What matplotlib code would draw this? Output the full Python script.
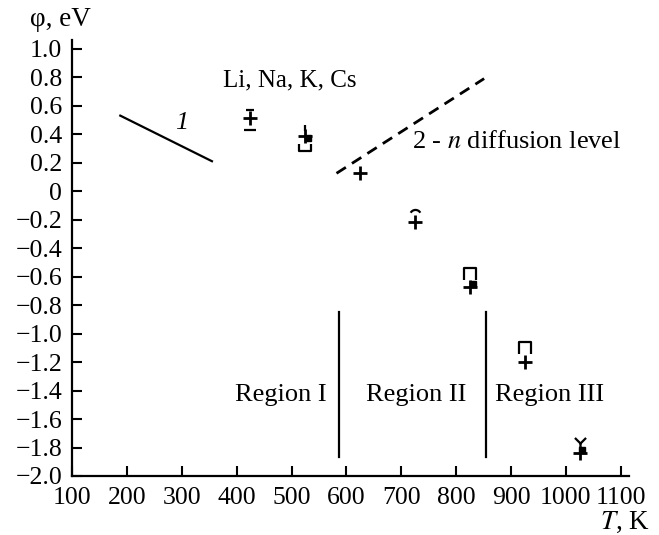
import numpy as np
import matplotlib
matplotlib.use('Agg')
import matplotlib.pyplot as plt
from matplotlib.path import Path
from matplotlib.ticker import FixedLocator, FuncFormatter

plt.rcParams['font.family'] = ['Liberation Serif', 'DejaVu Serif']
plt.rcParams['mathtext.fontset'] = 'stix'

# temperatures of the measured points, K
T = [425, 525, 625, 725, 825, 925, 1025]
# main "+" symbols, eV
phi_plus = [0.51, 0.39, 0.13, -0.22, -0.67, -1.20, -1.84]
# companion symbols (other alkali metals) around the same points
extra_T = [425, 425, 525, 525, 725, 825, 925, 1025]
extra_phi = [0.57, 0.43, 0.44, 0.30, -0.17, -0.58, -1.10, -1.77]
# small filled squares next to some crosses
sq_T = [530, 830, 1030]
sq_phi = [0.37, -0.65, -1.82]

# line 1 and dashed line 2
line1_T = [188, 355]
line1_phi = [0.53, 0.21]
line2_T = [582, 851]
line2_phi = [0.125, 0.79]

# region borders
border_T = [586, 854]
border_phi = [-0.85, -1.865]

yticks = [1.0, 0.8, 0.6, 0.4, 0.2, 0, -0.2, -0.4, -0.6, -0.8, -1.0,
          -1.2, -1.4, -1.6, -1.8, -2.0]
xticks = [100, 200, 300, 400, 500, 600, 700, 800, 900, 1000, 1100]

# marker shapes
cup = Path([(-1, 0.7), (-1, -0.5), (1, -0.5), (1, 0.7)],
           [Path.MOVETO, Path.LINETO, Path.LINETO, Path.LINETO])
cap = Path([(-1, -1), (-1, 1), (1, 1), (1, -1)],
           [Path.MOVETO, Path.LINETO, Path.LINETO, Path.LINETO])
vee = Path([(-1, 1), (0, 0), (1, 1), (0, 0), (0, -0.6)],
           [Path.MOVETO, Path.LINETO, Path.LINETO, Path.MOVETO, Path.LINETO])
arc = Path.arc(30, 150)
extra_m = ['_', '_', '|', cup, arc, cap, cap, vee]
extra_s = [6, 9, 5, 8, 8, 8, 9, 8]

fig = plt.figure(figsize=(6.59, 5.35), dpi=100)
ax = fig.add_axes([72/659, 59/535, 557/659, 436/535])

ax.plot(T, phi_plus, ls='none', marker='+', ms=10, mew=2, color='black')
for t, p, m, s in zip(extra_T, extra_phi, extra_m, extra_s):
    ax.plot([t], [p], ls='none', marker=m, ms=s, mew=1.6, mfc='none',
            color='black')
ax.plot(sq_T, sq_phi, ls='none', marker='s', ms=4, color='black')

ax.plot(line1_T, line1_phi, color='black', lw=1.6)
ax.plot(line2_T, line2_phi, color='black', lw=2, ls=(0, (4, 2.6)))
for bt in border_T:
    ax.plot([bt, bt], border_phi, color='black', lw=1.6)

ax.text(299, 0.476, '1', fontsize=19, style='italic', ha='center', va='center')
ax.text(375, 0.78, 'Li, Na, K, Cs', fontsize=18, ha='left', va='center')
ax.text(719, 0.345, '2 - $n$ diffusion level', fontsize=19, ha='left', va='center')
ax.text(481, -1.43, 'Region I', fontsize=19, ha='center', va='center')
ax.text(727, -1.43, 'Region II', fontsize=19, ha='center', va='center')
ax.text(970, -1.43, 'Region III', fontsize=19, ha='center', va='center')

ax.set_xlim(100, 1115)
ax.set_ylim(-2.0, 1.061)
ax.xaxis.set_major_locator(FixedLocator(xticks))
ax.yaxis.set_major_locator(FixedLocator(yticks))
ax.yaxis.set_major_formatter(FuncFormatter(
    lambda v, pos: '0' if abs(v) < 1e-9 else ('%.1f' % v).replace('-', '\u2212')))
ax.tick_params(direction='in', length=7, width=1.5, labelsize=18.5)
ax.tick_params(axis='y', pad=7)
ax.tick_params(axis='x', pad=8)
for s in ['top', 'right']:
    ax.spines[s].set_visible(False)
for s in ['left', 'bottom']:
    ax.spines[s].set_linewidth(1.6)

fig.text(30/659, 1 - 20/535, '\u03c6, eV', fontsize=19.5, ha='left', va='center')
fig.text(650/659, 1 - 522/535, '$T$, K', fontsize=19.5, ha='right', va='center')

fig.savefig('out.png', dpi=100)
